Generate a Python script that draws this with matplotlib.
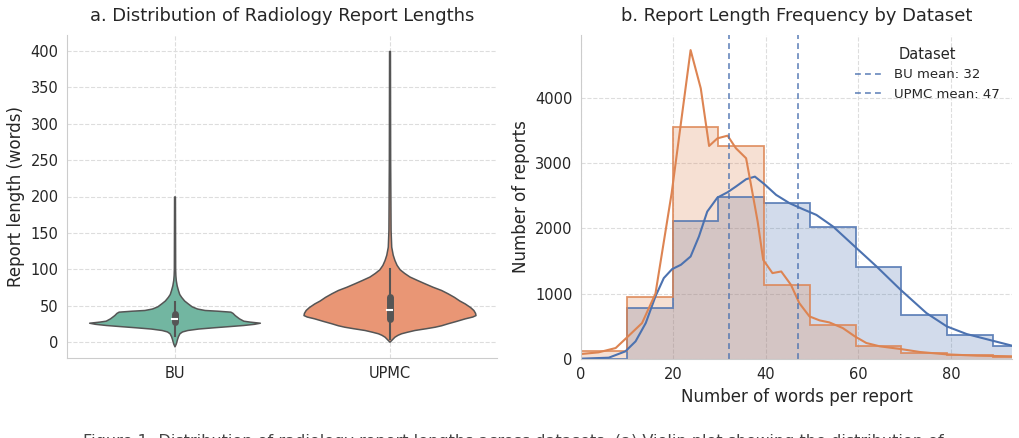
import matplotlib
matplotlib.use("Agg")
import matplotlib.pyplot as plt
import numpy as np
import colorsys

# ---- panel a: violin outlines (value, half-width) ----
datasets = ["BU", "UPMC"]
violin_colors = ["#66c2a5", "#fc8d62"]

bu_vals = [-6, -2, 0, 4.4, 8, 12, 14.5, 16.5, 18.5, 20.2, 22, 23.4, 25, 26.5, 28, 29.3, 32.5, 37, 40,
           41.7, 43, 44, 46, 49, 53, 57, 62, 66, 71.5, 78, 85, 92, 100, 150, 200]
bu_half = [0, 0.006, 0.008, 0.012, 0.016, 0.023, 0.035, 0.06, 0.11, 0.18, 0.26, 0.32, 0.37, 0.397, 0.35,
           0.32, 0.30, 0.28, 0.27, 0.26, 0.20, 0.14, 0.105, 0.08, 0.062, 0.045, 0.031, 0.022, 0.016, 0.01,
           0.006, 0.004, 0.003, 0.0025, 0.002]

upmc_vals = [0.4, 4, 7.3, 10, 12, 14, 16.5, 19, 21, 23, 25.7, 29, 32.5, 35, 37, 40, 44, 48, 53, 57, 62, 67,
             71.5, 76, 80.7, 85, 90, 95, 100, 106, 112.7, 120, 131, 154, 250, 400]
upmc_half = [0, 0.012, 0.023, 0.038, 0.054, 0.08, 0.116, 0.17, 0.21, 0.24, 0.27, 0.31, 0.35, 0.385, 0.40,
             0.398, 0.39, 0.375, 0.35, 0.325, 0.30, 0.27, 0.24, 0.20, 0.163, 0.13, 0.093, 0.068, 0.047,
             0.033, 0.023, 0.015, 0.008, 0.005, 0.003, 0.002]

# box stats: whisker low, Q1, median, Q3, whisker high
bu_box = [8, 27, 31, 38, 55]
upmc_box = [4, 31, 44, 62, 100]

# ---- panel b: histogram (bin counts) and kde lines ----
bin_edges = [0, 9.9, 19.8, 29.7, 39.6, 49.5, 59.4, 69.3, 79.2, 89.1, 99.0]
bu_counts = [117, 953, 3552, 3261, 1126, 520, 204, 92, 55, 30]
upmc_counts = [5, 780, 2115, 2487, 2395, 2018, 1401, 673, 362, 194]

bu_kde_x = [0, 3.8, 7.5, 9.8, 13.2, 16.1, 19.6, 23.7, 25.9, 27.7, 29.5, 31.7, 33.5, 35.7, 36.7, 38.2, 39.4,
            41.4, 43.3, 45.4, 47.2, 49.4, 51.6, 53.7, 56.6, 59.2, 61.7, 64.6, 69.1, 73.3, 79.1, 85.6, 93.2]
bu_kde_y = [76, 102, 168, 321, 550, 1000, 2538, 4729, 4143, 3261, 3378, 3419, 3226, 3073, 2690, 2104, 1518,
            1315, 1340, 1136, 856, 652, 591, 560, 474, 347, 245, 194, 153, 107, 71, 51, 41]

upmc_kde_x = [0, 6, 9.6, 11.8, 14, 16.1, 17.9, 19.7, 21.6, 23.7, 25.5, 27.3, 29.5, 31.7, 33.5, 35.7, 37.6,
              39.6, 42.2, 45.1, 48, 50.9, 54.5, 59.2, 63.9, 69.1, 74.7, 79.1, 83.4, 89, 93.2]
upmc_kde_y = [5, 20, 117, 270, 550, 958, 1238, 1376, 1442, 1569, 1875, 2257, 2471, 2553, 2640, 2752, 2792,
              2680, 2512, 2385, 2293, 2206, 2028, 1722, 1417, 1060, 703, 499, 382, 280, 204]

means = [32, 47]

BLUE = "#4C72B0"
ORANGE = "#DD8452"
TEXT = "#262626"

plt.rcParams["font.family"] = ["DejaVu Sans"]
plt.rcParams["text.color"] = TEXT
plt.rcParams["axes.labelcolor"] = TEXT
plt.rcParams["xtick.color"] = TEXT
plt.rcParams["ytick.color"] = TEXT


def desaturate(color, prop):
    r, g, b = matplotlib.colors.to_rgb(color)
    h, l, s = colorsys.rgb_to_hls(r, g, b)
    return colorsys.hls_to_rgb(h, l, s * prop)


fig = plt.figure(figsize=(10.19, 4.38), dpi=100)
ax1 = fig.add_axes([67 / 1019, 80 / 438, 430 / 1019, 323 / 438])
ax2 = fig.add_axes([581 / 1019, 79 / 438, 431 / 1019, 324 / 438])


def style_axes(ax):
    ax.set_axisbelow(True)
    ax.grid(True, linestyle="--", color="#dddddd", lw=0.8)
    for side in ["top", "right"]:
        ax.spines[side].set_visible(False)
    for side in ["left", "bottom"]:
        ax.spines[side].set_color("#cccccc")
    ax.tick_params(length=0, labelsize=10.5, pad=6)


# panel a
style_axes(ax1)
profiles = [(bu_vals, bu_half, bu_box), (upmc_vals, upmc_half, upmc_box)]
for i, (vals, half, box) in enumerate(profiles):
    vals = np.array(vals)
    half = np.array(half)
    ax1.fill_betweenx(vals, i - half, i + half, color=desaturate(violin_colors[i], 0.75),
                      edgecolor="#555555", lw=1.1, zorder=2)
    ax1.plot([i, i], [box[0], box[4]], color="#555555", lw=1.5, zorder=3)
    ax1.plot([i, i], [box[1], box[3]], color="#555555", lw=5, solid_capstyle="round", zorder=3)
    ax1.plot([i - 0.012, i + 0.012], [box[2], box[2]], color="white", lw=1.5, zorder=4)

ax1.set_xlim(-0.5, 1.5)
ax1.set_ylim(-22, 422)
ax1.set_xticks(range(len(datasets)))
ax1.set_xticklabels(datasets)
ax1.set_yticks(range(0, 401, 50))
ax1.set_ylabel("Report length (words)", fontsize=12)
ax1.set_title("a. Distribution of Radiology Report Lengths", fontsize=12.9, pad=10)

# panel b
style_axes(ax2)
ax2.stairs(upmc_counts, bin_edges, fill=True, color=BLUE, alpha=0.25, lw=0)
ax2.stairs(bu_counts, bin_edges, fill=True, color=ORANGE, alpha=0.25, lw=0)
ax2.stairs(upmc_counts, bin_edges, baseline=0, color=BLUE, lw=1.3, alpha=0.85)
ax2.stairs(bu_counts, bin_edges, baseline=0, color=ORANGE, lw=1.3, alpha=0.85)
ax2.plot(upmc_kde_x, upmc_kde_y, color=BLUE, lw=1.5)
ax2.plot(bu_kde_x, bu_kde_y, color=ORANGE, lw=1.5)

labels = ["BU mean: %d" % means[0], "UPMC mean: %d" % means[1]]
for m, lab in zip(means, labels):
    ax2.axvline(m, color=BLUE, ls=(0, (3.5, 2.5)), lw=1.2, alpha=0.85, label=lab)

ax2.set_xlim(0, 93.2)
ax2.set_ylim(0, 4960)
ax2.set_xticks(range(0, 81, 20))
ax2.set_yticks(range(0, 4001, 1000))
ax2.set_xlabel("Number of words per report", fontsize=12)
ax2.set_ylabel("Number of reports", fontsize=12)
ax2.set_title("b. Report Length Frequency by Dataset", fontsize=12.9, pad=10)
leg = ax2.legend(title="Dataset", loc="upper right", frameon=False, fontsize=9.5,
                 title_fontsize=10.5, handlelength=2.2)

# caption, cut off by the bottom edge as in the reference
fig.text(513.5 / 1019, 1 - 434 / 438,
         "Figure 1: Distribution of radiology report lengths across datasets. (a) Violin plot showing the distribution of",
         ha="center", va="top", fontsize=11.6, color="#444444")

fig.savefig("out.png", dpi=100)
